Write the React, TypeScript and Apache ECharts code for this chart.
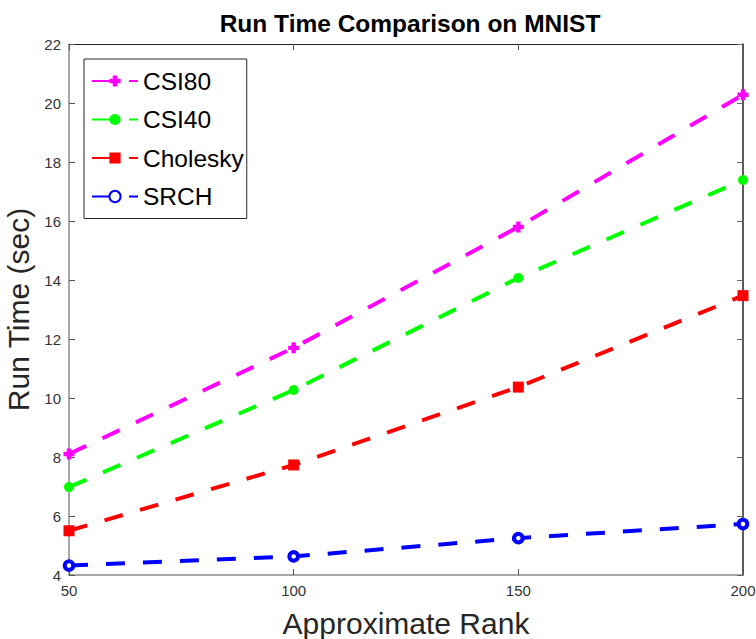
import React, { useEffect, useRef } from "react";
import * as echarts from "echarts";

const ranks = [50, 100, 150, 200];
const csi80 = [8.1, 11.7, 15.8, 20.28];
const csi40 = [6.98, 10.27, 14.07, 17.39];
const cholesky = [5.5, 7.73, 10.37, 13.47];
const srch = [4.32, 4.63, 5.25, 5.73];
const yTicks = { min: 4, max: 22, interval: 2 };
const xTicks = { min: 50, max: 200, interval: 50 };

const FONT = "Liberation Sans, Arial, Helvetica, sans-serif";
const plusPath = "path://M3,0H7V3H10V7H7V10H3V7H0V3H3Z";

export default function App() {
  const ref = useRef<HTMLDivElement>(null);
  useEffect(() => {
    if (!ref.current) return;
    const chart = echarts.init(ref.current, null, { renderer: "svg" });
    const mk = (name: string, data: number[], color: string, symbol: string, size: number, extra: any = {}) => ({
      name,
      type: "line",
      data: ranks.map((r, i) => [r, data[i]]),
      clip: false,
      symbol,
      symbolSize: size,
      showAllSymbol: true,
      lineStyle: { color, width: 4, type: [19, 18] },
      itemStyle: { color, ...extra },
      emphasis: { disabled: true },
    });
    chart.setOption({
      animation: false,
      backgroundColor: "#ffffff",
      textStyle: { fontFamily: FONT },
      title: {
        text: "Run Time Comparison on MNIST",
        left: 405,
        textAlign: "center",
        top: 6,
        textStyle: { fontFamily: FONT, fontWeight: "bold", fontSize: 24.5, color: "#000" },
      },
      legend: {
        left: 84,
        top: 59,
        orient: "vertical",
        data: ["CSI80", "CSI40", "Cholesky", "SRCH"],
        backgroundColor: "#fff",
        borderColor: "#262626",
        borderWidth: 1,
        borderRadius: 0,
        padding: [8, 3, 8, 7],
        itemWidth: 46,
        itemHeight: 14,
        itemGap: 10.5,
        selectedMode: false,
        textStyle: { fontFamily: FONT, fontSize: 24.5, color: "#000", lineHeight: 28 },
      },
      grid: { left: 69, right: 13, top: 44, bottom: 64, outerBoundsMode: "none", containLabel: false },
      xAxis: [
        {
          type: "value",
          ...xTicks,
          name: "Approximate Rank",
          nameLocation: "middle",
          nameGap: 33,
          nameTextStyle: { fontFamily: FONT, fontSize: 30, color: "#262626" },
          axisLine: { show: true, onZero: false, lineStyle: { color: "#8a8a8a", width: 1.5 } },
          axisTick: { show: true, inside: true, length: 6, lineStyle: { color: "#555" } },
          axisLabel: { fontFamily: FONT, fontSize: 15, color: "#333", margin: 8 },
          splitLine: { show: false },
        },
        {
          type: "value",
          ...xTicks,
          position: "top",
          axisLine: { show: true, onZero: false, lineStyle: { color: "#262626", width: 1 } },
          axisTick: { show: true, inside: true, length: 6, lineStyle: { color: "#555" } },
          axisLabel: { show: false },
          splitLine: { show: false },
        },
      ],
      yAxis: [
        {
          type: "value",
          ...yTicks,
          name: "Run Time (sec)",
          nameLocation: "middle",
          nameGap: 33,
          nameTextStyle: { fontFamily: FONT, fontSize: 30, color: "#262626" },
          axisLine: { show: true, onZero: false, lineStyle: { color: "#8a8a8a", width: 1.5 } },
          axisTick: { show: true, inside: true, length: 6, lineStyle: { color: "#555" } },
          axisLabel: { fontFamily: FONT, fontSize: 15, color: "#333", margin: 8 },
          splitLine: { show: false },
        },
        {
          type: "value",
          ...yTicks,
          position: "right",
          axisLine: { show: true, onZero: false, lineStyle: { color: "#262626", width: 1.5 } },
          axisTick: { show: true, inside: true, length: 6, lineStyle: { color: "#666" } },
          axisLabel: { show: false },
          splitLine: { show: false },
        },
      ],
      series: [
        mk("CSI80", csi80, "#ff00ff", plusPath, 11),
        mk("CSI40", csi40, "#00ff00", "circle", 10),
        mk("Cholesky", cholesky, "#ff0000", "rect", 11),
        mk("SRCH", srch, "#0000ff", "circle", 8.5, { color: "#ffffff", borderWidth: 4, borderColor: "#0000ff" }),
      ],
    });
    return () => chart.dispose();
  }, []);
  return <div ref={ref} style={{ width: 756, height: 639, position: "absolute", left: 0, top: 0 }} />;
}
